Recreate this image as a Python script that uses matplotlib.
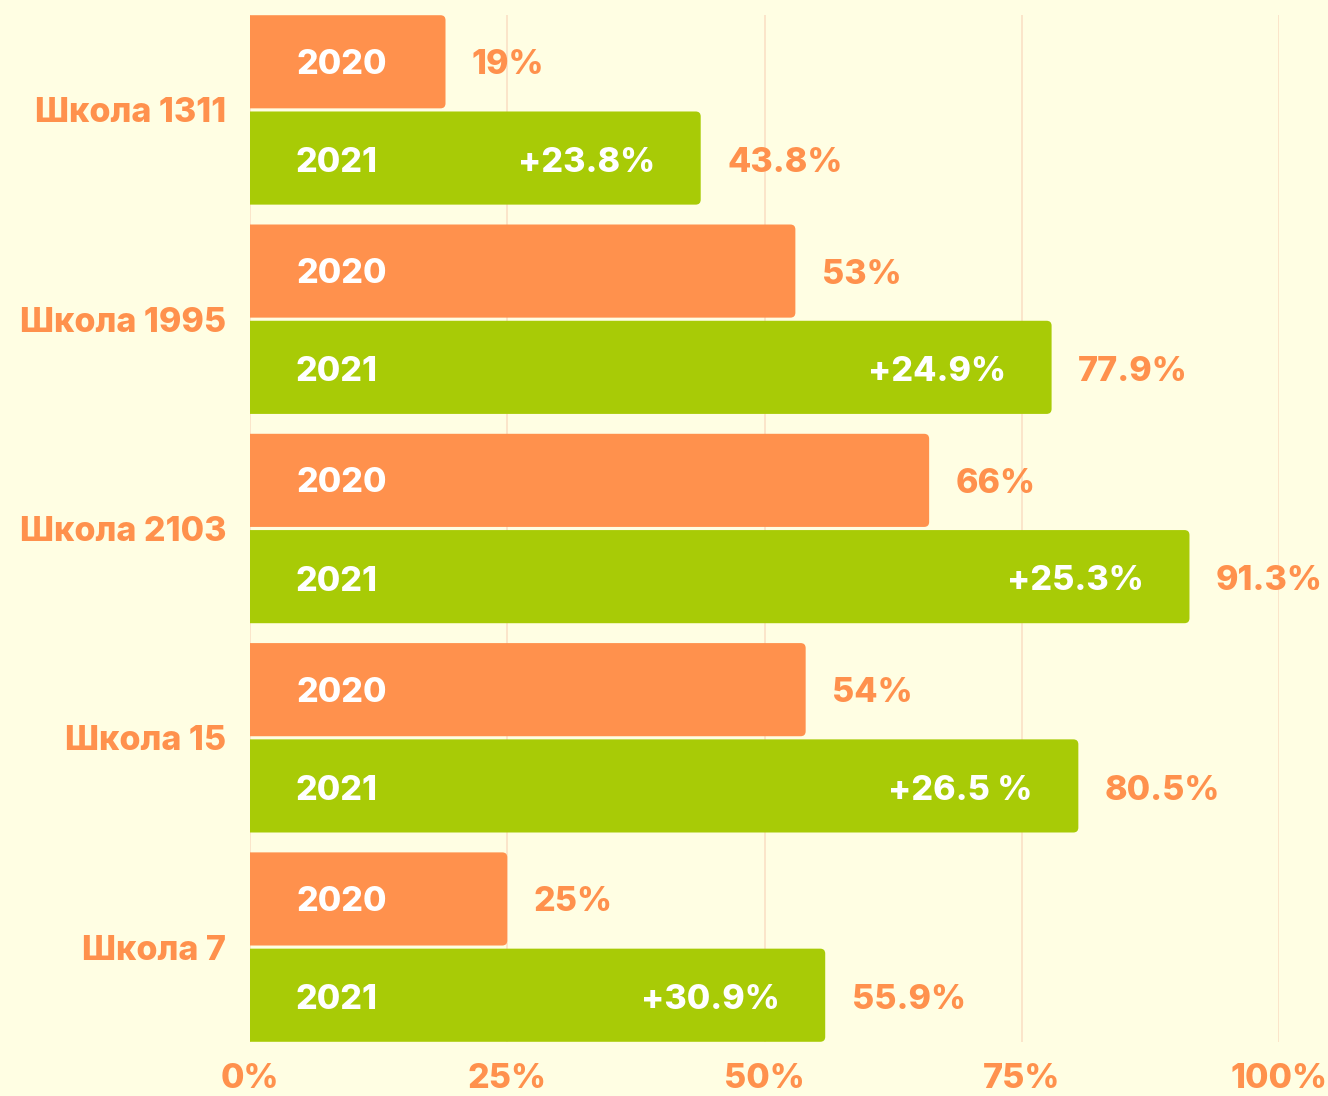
import matplotlib
matplotlib.use('Agg')
import matplotlib.pyplot as plt
from matplotlib.patches import PathPatch
from matplotlib.path import Path
import matplotlib.transforms as mtransforms
import numpy as np

schools = ['Школа 1311', 'Школа 1995', 'Школа 2103', 'Школа 15', 'Школа 7']
values_2020 = [19, 53, 66, 54, 25]
values_2021 = [43.8, 77.9, 91.3, 80.5, 55.9]
labels_2020 = ['19%', '53%', '66%', '54%', '25%']
labels_2021 = ['43.8%', '77.9%', '91.3%', '80.5%', '55.9%']
growth_labels = ['+23.8%', '+24.9%', '+25.3%', '+26.5 %', '+30.9%']
year_labels = ['2020', '2021']
xticks = [0, 25, 50, 75, 100]
xtick_labels = ['0%', '25%', '50%', '75%', '100%']

BG = '#FFFEE3'
ORANGE = '#FF914D'
GREEN = '#A8CB06'
GRID = '#FBE0C6'
FONT = ['Inter', 'DejaVu Sans']
FS = 24.5
FW = 800

plt.rcParams['font.family'] = FONT

W, H = 1328, 1096
fig = plt.figure(figsize=(W / 100, H / 100), dpi=100, facecolor=BG)
ax = fig.add_axes([250 / W, (H - 1042) / H, 1029 / W, 1027 / H])
ax.set_facecolor(BG)

n = len(schools)
y = np.arange(n)
off = 0.23
h = 0.445
ax.set_xlim(0, 100)
ax.set_ylim(n - 1 + 0.4535, -0.4535)

bars20 = ax.barh(y - off, values_2020, height=h, color=ORANGE, zorder=3)
bars21 = ax.barh(y + off, values_2021, height=h, color=GREEN, zorder=3)

# rounded right corners (square left side)
x_per_px = 100 / 1029
y_per_px = (n - 1 + 2 * 0.4535) / 1027
rx = 5 * x_per_px
ry = 5 * y_per_px
for bars, col in ((bars20, ORANGE), (bars21, GREEN)):
    for b in bars:
        x0, y0, w, hh = b.get_x(), b.get_y(), b.get_width(), b.get_height()
        x1, y1 = x0 + w, y0 + hh
        b.set_visible(False)
        verts = [(x0, y0), (x1 - rx, y0), (x1, y0), (x1, y0 + ry),
                 (x1, y1 - ry), (x1, y1), (x1 - rx, y1), (x0, y1), (x0, y0)]
        codes = [Path.MOVETO, Path.LINETO, Path.CURVE3, Path.CURVE3,
                 Path.LINETO, Path.CURVE3, Path.CURVE3, Path.LINETO, Path.CLOSEPOLY]
        ax.add_patch(PathPatch(Path(verts, codes), fc=col, ec='none', zorder=3))


def shifted(dy_px):
    return ax.transData + mtransforms.ScaledTranslation(0, -dy_px / 100, fig.dpi_scale_trans)


t_or = shifted(3)
t_gr = shifted(5)

for i in range(n):
    ax.text(4.5, y[i] - off, year_labels[0], color='white', fontsize=FS,
            fontweight=FW, ha='left', va='center', zorder=5, transform=t_or)
    ax.text(4.4, y[i] + off, year_labels[1], color='white', fontsize=FS,
            fontweight=FW, ha='left', va='center', zorder=5, transform=t_gr)
    ax.annotate(labels_2020[i], (values_2020[i], y[i] - off), xytext=(19, -2.5),
                textcoords='offset points', color=ORANGE, fontsize=FS,
                fontweight=FW, ha='left', va='center', zorder=5)
    ax.annotate(labels_2021[i], (values_2021[i], y[i] + off), xytext=(19, -3.5),
                textcoords='offset points', color=ORANGE, fontsize=FS,
                fontweight=FW, ha='left', va='center', zorder=5)
    ax.annotate(growth_labels[i], (values_2021[i], y[i] + off), xytext=(-33, -3.5),
                textcoords='offset points', color='white', fontsize=FS,
                fontweight=FW, ha='right', va='center', zorder=5)

ax.set_yticks(y)
ax.set_yticklabels(schools, fontsize=FS, fontweight=FW, color=ORANGE)
ax.set_xticks(xticks)
ax.set_xticklabels(xtick_labels, fontsize=FS, fontweight=FW, color=ORANGE)
ax.tick_params(axis='both', length=0)
ax.tick_params(axis='y', pad=17)
ax.tick_params(axis='x', pad=15)
ax.grid(axis='x', color=GRID, linewidth=1.2, zorder=0)
ax.set_axisbelow(True)
for s in ax.spines.values():
    s.set_visible(False)

fig.savefig('out.png', dpi=100, facecolor=BG)
